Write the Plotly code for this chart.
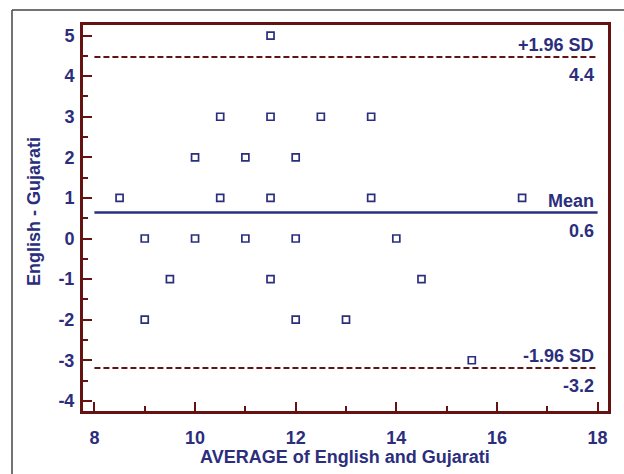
import plotly.graph_objects as go

# Data: average (x) and difference (y)
avg_vals = [11.5,
            10.5, 11.5, 12.5, 13.5,
            10, 11, 12,
            8.5, 10.5, 11.5, 13.5, 16.5,
            9, 10, 11, 12, 14,
            9.5, 11.5, 14.5,
            9, 12, 13,
            15.5]
diff_vals = [5,
             3, 3, 3, 3,
             2, 2, 2,
             1, 1, 1, 1, 1,
             0, 0, 0, 0, 0,
             -1, -1, -1,
             -2, -2, -2,
             -3]

mean_val = 0.64
upper_val = 4.47
lower_val = -3.19
line_x = [8, 18]
x_ticks = [8, 10, 12, 14, 16, 18]
y_ticks = [-4, -3, -2, -1, 0, 1, 2, 3, 4, 5]

NAVY = "#2B2E7C"
RED = "#651212"
FONT = "Arial, Liberation Sans, sans-serif"

fig = go.Figure()
fig.add_trace(go.Scatter(x=avg_vals, y=diff_vals, mode="markers",
                         marker=dict(symbol="square-open", size=7, color=NAVY,
                                     line=dict(width=1.7, color=NAVY)),
                         showlegend=False, cliponaxis=False))
fig.add_trace(go.Scatter(x=line_x, y=[upper_val, upper_val], mode="lines",
                         line=dict(color=RED, width=2, dash="6px,3px"), showlegend=False))
fig.add_trace(go.Scatter(x=line_x, y=[lower_val, lower_val], mode="lines",
                         line=dict(color=RED, width=2, dash="6px,3px"), showlegend=False))
fig.add_trace(go.Scatter(x=line_x, y=[mean_val, mean_val], mode="lines",
                         line=dict(color=NAVY, width=2.5), showlegend=False))

ann_font = dict(family=FONT, size=18, color=NAVY)
labels = [("+1.96 SD", "4.4", upper_val), ("Mean", "0.6", mean_val), ("-1.96 SD", "-3.2", lower_val)]
for top, bottom, yv in labels:
    fig.add_annotation(x=18, y=yv, text="<b>%s</b>" % top, showarrow=False,
                       xanchor="right", yanchor="bottom", yshift=0, xshift=-2, font=ann_font)
    fig.add_annotation(x=18, y=yv, text="<b>%s</b>" % bottom, showarrow=False,
                       xanchor="right", yanchor="top", yshift=-6, xshift=-2, font=ann_font)

# plot area in pixels
L, R, T, B = 83, 608, 25, 411
W, H = R - L, B - T
def px(x):
    return (x - L) / W
def py(y):
    return (B - y) / H

# outer gray border
fig.add_shape(type="line", xref="paper", yref="paper", x0=px(12), x1=px(640), y0=py(10), y1=py(10),
              line=dict(color="#444444", width=1.5))
fig.add_shape(type="line", xref="paper", yref="paper", x0=px(12), x1=px(12), y0=py(10), y1=py(480),
              line=dict(color="#444444", width=1.5))

# axis titles
title_font = dict(family=FONT, size=18, color=NAVY)
fig.add_annotation(xref="paper", yref="paper", x=px(345), y=py(457),
                   text="<b>AVERAGE of English and Gujarati</b>", showarrow=False,
                   xanchor="center", yanchor="middle", font=title_font)
fig.add_annotation(xref="paper", yref="paper", x=px(34), y=py(212),
                   text="<b>English - Gujarati</b>", showarrow=False, textangle=-90,
                   xanchor="center", yanchor="middle", font=title_font)

tickfont = dict(family=FONT, size=18, color=NAVY)
fig.update_xaxes(range=[7.773, 18.207], tickvals=x_ticks,
                 ticktext=["<b>%d</b>" % v for v in x_ticks], tickfont=tickfont,
                 ticks="inside", ticklen=9, tickwidth=2, tickcolor=RED,
                 minor=dict(ticks="inside", dtick=1, tick0=9, ticklen=5, tickwidth=2, tickcolor=RED),
                 showline=True, linecolor=RED, linewidth=3, mirror=True,
                 showgrid=False, zeroline=False, ticklabelstandoff=8, automargin=False)
fig.update_yaxes(range=[-4.25, 5.26], tickvals=y_ticks,
                 ticktext=["<b>%d</b>" % v for v in y_ticks], tickfont=tickfont,
                 ticks="inside", ticklen=9, tickwidth=2, tickcolor=RED,
                 minor=dict(ticks="inside", dtick=0.5, tick0=0.5, ticklen=5, tickwidth=2, tickcolor=RED),
                 showline=True, linecolor=RED, linewidth=3, mirror=True,
                 showgrid=False, zeroline=False, ticklabelstandoff=2, automargin=False)

fig.update_layout(width=624, height=474, margin=dict(l=L, r=624 - R, t=T, b=474 - B),
                  plot_bgcolor="white", paper_bgcolor="white")

fig.write_html("out.html", config={"displayModeBar": False},
               post_script="document.body.style.margin='0';document.body.style.overflow='hidden';")
